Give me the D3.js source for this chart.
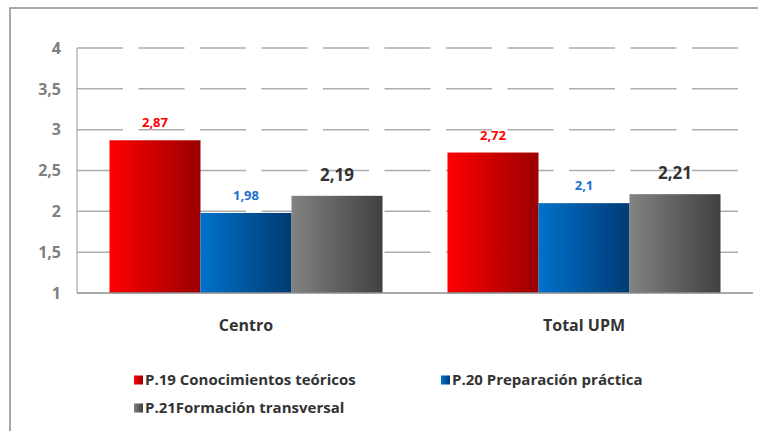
<!DOCTYPE html>
<html><head><meta charset="utf-8">
<script src="https://cdn.jsdelivr.net/npm/d3@7"></script>
<style>body{margin:0;background:#fff}svg{display:block}</style>
</head><body>
<svg id="c" width="758" height="431"></svg>
<script>
const categories = ["Centro", "Total UPM"];
const seriesNames = ["P.19 Conocimientos teóricos", "P.20 Preparación práctica", "P.21Formación transversal"];
const centroValues = [2.87, 1.98, 2.19];
const totalUpmValues = [2.72, 2.1, 2.21];
const valueLabels = [["2,87", "1,98", "2,19"], ["2,72", "2,1", "2,21"]];
const yTicks = [1, 1.5, 2, 2.5, 3, 3.5, 4];
const yTickLabels = ["1", "1,5", "2", "2,5", "3", "3,5", "4"];

(function () {
const seriesColors = [
  {from: "#ff0000", to: "#9a0000", label: "#ff0000", size: 13},
  {from: "#0072cc", to: "#003a72", label: "#1a6fd0", size: 13},
  {from: "#828282", to: "#404040", label: "#333333", size: 17}
];
const font = "'Open Sans', 'Liberation Sans', sans-serif";

const svg = d3.select("#c");
const defs = svg.append("defs");
seriesColors.forEach((c, i) => {
  const g = defs.append("linearGradient").attr("id", "g" + i)
    .attr("x1", "0%").attr("x2", "100%").attr("y1", "0%").attr("y2", "0%");
  g.append("stop").attr("offset", "0%").attr("stop-color", c.from);
  g.append("stop").attr("offset", "100%").attr("stop-color", c.to);
});

// frame
svg.append("rect").attr("x", 10).attr("y", 8).attr("width", 800).attr("height", 500)
  .attr("fill", "none").attr("stroke", "#8a8a8a").attr("stroke-width", 1.5);

const pL = 77, pR = 753, pT = 48, pB = 293;
const y = d3.scaleLinear().domain([1, 4]).range([pB, pT]);
const x0 = d3.scaleBand().domain(categories).range([pL, pR]).padding(0);
const x1 = d3.scaleBand().domain(seriesNames).range([0, x0.bandwidth()]).paddingInner(0).paddingOuter(0.357);

// gridlines
svg.append("g").selectAll("line").data(yTicks.slice(1)).join("line")
  .attr("x1", pL).attr("x2", pR)
  .attr("y1", d => y(d)).attr("y2", d => y(d))
  .attr("stroke", "#adadad").attr("stroke-width", 1.5)
  .attr("stroke-dasharray", "46,15.5");

// y axis line
svg.append("line").attr("x1", pL).attr("x2", pL).attr("y1", pT).attr("y2", pB)
  .attr("stroke", "#a6a6a6").attr("stroke-width", 1.2);

// y tick labels
svg.append("g").selectAll("text").data(yTicks).join("text")
  .attr("x", 61).attr("y", d => y(d)).attr("dy", "0.36em")
  .attr("text-anchor", "end").attr("font-family", font).attr("font-weight", "bold")
  .attr("font-size", 16).attr("fill", "#7f7f7f")
  .text((d, i) => yTickLabels[i]);

const data = categories.map((c, ci) => ({cat: c, values: ci === 0 ? centroValues : totalUpmValues, ci}));

const groups = svg.append("g").selectAll("g").data(data).join("g")
  .attr("transform", d => `translate(${x0(d.cat)},0)`);

groups.selectAll("rect").data(d => d.values.map((v, i) => ({v, i}))).join("rect")
  .attr("x", d => x1(seriesNames[d.i])).attr("width", x1.bandwidth())
  .attr("y", d => y(d.v)).attr("height", d => pB - y(d.v))
  .attr("fill", d => `url(#g${d.i})`);

groups.selectAll("text").data(d => d.values.map((v, i) => ({v, i, ci: d.ci}))).join("text")
  .attr("x", d => x1(seriesNames[d.i]) + x1.bandwidth() / 2)
  .attr("y", d => y(d.v) - (d.i === 2 ? 15 : 13))
  .attr("text-anchor", "middle").attr("font-family", font).attr("font-weight", "bold")
  .attr("font-size", d => seriesColors[d.i].size).attr("fill", d => seriesColors[d.i].label)
  .text(d => valueLabels[d.ci][d.i]);

// x axis line
svg.append("line").attr("x1", pL).attr("x2", pR).attr("y1", pB).attr("y2", pB)
  .attr("stroke", "#8c8c8c").attr("stroke-width", 1.5);

// category labels
svg.append("g").selectAll("text").data(categories).join("text")
  .attr("x", d => x0(d) + x0.bandwidth() / 2).attr("y", 325).attr("dy", "0.36em")
  .attr("text-anchor", "middle").attr("font-family", font).attr("font-weight", "bold")
  .attr("font-size", 16).attr("fill", "#333")
  .text(d => d);

// legend
const legendPos = [[134, 380], [441, 380], [134, 408]];
const lg = svg.append("g").selectAll("g").data(seriesNames).join("g")
  .attr("transform", (d, i) => `translate(${legendPos[i][0]},${legendPos[i][1]})`);
lg.append("rect").attr("x", 0).attr("y", -4.5).attr("width", 9).attr("height", 9)
  .attr("fill", (d, i) => `url(#g${i})`);
lg.append("text").attr("x", 11).attr("y", 0).attr("dy", "0.36em")
  .attr("font-family", font).attr("font-weight", "bold").attr("font-size", 15).attr("fill", "#333")
  .text(d => d);
})();
</script>
</body></html>
